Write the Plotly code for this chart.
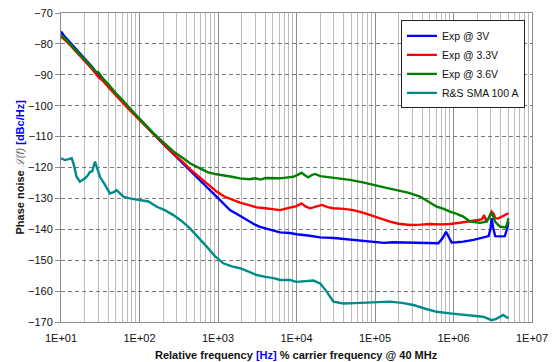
import plotly.graph_objects as go

# ---------------- data ----------------
f_blue = [10, 11, 13, 16, 20, 25, 30, 35, 40, 50, 60, 70, 85, 100, 120, 150, 200, 270, 360, 450, 590, 750,
          960, 1200, 1420, 1900, 2320, 3000, 3430, 4170, 5000, 6170, 8260, 10000, 14000, 20000, 30000, 43600,
          60000, 95000, 130000, 170000, 253000, 400000, 641000, 720000, 804000, 870000, 949000, 1100000,
          1330000, 1800000, 2180000, 2800000, 2950000, 3060000, 3200000, 3400000, 4000000, 4500000, 4800000,
          5000000]
v_blue = [-76.0, -77.5, -79.5, -82.0, -84.8, -87.5, -90.3, -91.7, -93.5, -96.3, -98.4, -100.3, -102.5, -104.4,
          -106.6, -109.3, -112.4, -115.6, -118.8, -121.4, -124.2, -126.8, -129.4, -132.0, -133.8, -135.6,
          -137.0, -138.6, -139.2, -139.8, -140.4, -141.0, -141.2, -141.6, -142.0, -142.6, -142.8, -143.2,
          -143.6, -144.0, -144.4, -144.2, -144.3, -144.6, -144.5, -143.0, -140.8, -142.5, -144.3, -144.2,
          -144.0, -143.4, -142.9, -142.2, -140.0, -136.4, -139.5, -142.2, -142.3, -142.2, -140.0, -137.5]

f_red = [10, 11, 13, 16, 20, 25, 30, 35, 40, 50, 60, 70, 85, 100, 120, 150, 200, 270, 361, 450, 590, 750, 961,
         1200, 1500, 1906, 2500, 3110, 4000, 5000, 6170, 8260, 10000, 11600, 13000, 14900, 17000, 21000,
         25000, 29500, 40000, 53000, 70000, 86300, 120000, 155000, 200000, 279000, 380000, 501000, 700000,
         902000, 1200000, 1470000, 1900000, 2290000, 2460000, 2600000, 2800000, 3060000, 3250000, 3400000,
         3700000, 4100000, 4500000, 5000000]
v_red = [-77.7, -78.5, -80.3, -82.8, -85.5, -88.2, -90.8, -92.2, -93.9, -96.8, -98.8, -100.6, -102.8, -104.6,
         -106.7, -109.3, -112.3, -115.5, -118.3, -120.8, -123.3, -125.8, -127.8, -129.4, -130.4, -131.4,
         -132.2, -132.9, -133.2, -133.5, -133.8, -133.0, -132.5, -131.6, -132.6, -133.2, -132.7, -132.1,
         -132.8, -133.2, -133.4, -133.8, -134.6, -135.4, -136.6, -137.5, -138.2, -138.6, -138.5, -138.3,
         -138.4, -138.3, -137.9, -137.5, -137.2, -136.8, -135.4, -137.2, -136.5, -134.3, -135.0, -136.4,
         -136.5, -135.9, -135.6, -134.8]

f_green = [10, 11, 13, 16, 20, 25, 28, 30, 35, 40, 50, 60, 70, 85, 100, 120, 150, 200, 270, 361, 450, 590, 750,
           961, 1200, 1500, 1906, 2500, 3000, 3500, 4000, 5030, 6170, 8260, 9100, 10500, 11600, 12800, 14100,
           15500, 17200, 20000, 26700, 35000, 48000, 70000, 95000, 140000, 189000, 270000, 374000, 480000,
           611000, 750000, 902000, 1100000, 1330000, 1620000, 2180000, 2650000, 2850000, 3060000, 3250000,
           3380000, 3900000, 4530000, 4800000, 5000000]
v_green = [-77.0, -78.0, -80.0, -82.4, -85.0, -87.6, -89.0, -89.2, -91.5, -93.0, -96.0, -98.0, -100.0, -102.3,
           -104.2, -106.3, -108.9, -111.8, -114.8, -117.0, -118.8, -120.3, -121.6, -122.2, -122.5, -123.0,
           -123.5, -123.8, -123.5, -123.9, -123.4, -123.5, -123.5, -123.1, -123.0, -122.3, -121.7, -122.5,
           -123.2, -122.5, -122.1, -122.8, -123.2, -123.5, -124.0, -124.8, -125.7, -126.6, -127.3, -128.2,
           -129.4, -131.0, -132.7, -133.4, -134.3, -135.0, -135.9, -137.5, -137.9, -137.5, -136.0, -134.6,
           -136.2, -137.5, -139.1, -139.4, -138.5, -136.4]

f_teal = [10, 11.2, 12.5, 13.7, 14.5, 15.8, 17.4, 18.5, 20.2, 22, 23.4, 25, 26, 27.1, 28.5, 31.4, 36, 42, 47,
          51, 56, 62, 75, 101, 130, 166, 210, 270, 340, 440, 560, 718, 900, 1166, 1500, 1906, 2500, 3110,
          4000, 5100, 6170, 8260, 10000, 13000, 16400, 20000, 24000, 29500, 39400, 55000, 71000, 100000,
          155000, 220000, 309000, 450000, 611000, 900000, 1330000, 1800000, 2370000, 2800000, 3060000,
          3500000, 4000000, 4300000, 4700000, 5000000]
v_teal = [-117.0, -117.6, -117.3, -117.0, -119.0, -123.0, -124.6, -124.2, -123.5, -122.5, -121.4, -121.3,
          -120.0, -118.1, -119.8, -123.0, -125.5, -128.4, -128.0, -127.3, -128.3, -129.4, -130.0, -130.5,
          -131.0, -132.7, -133.8, -135.4, -137.2, -139.7, -142.5, -145.6, -148.5, -151.0, -152.0, -152.6,
          -153.8, -154.8, -155.4, -155.8, -156.4, -156.4, -157.0, -156.8, -156.6, -157.5, -160.0, -163.4,
          -164.0, -163.9, -163.8, -163.6, -163.4, -163.8, -164.5, -165.8, -166.7, -167.2, -167.7, -168.0,
          -168.3, -169.0, -169.4, -169.0, -168.0, -167.7, -168.4, -168.8]

series_names = ["Exp @ 3V", "Exp @ 3.3V", "Exp @ 3.6V", "R&S SMA 100 A"]
series_colors = ["#0000FF", "#FF0000", "#008000", "#008B8B"]

x_tickvals = [1e1, 1e2, 1e3, 1e4, 1e5, 1e6, 1e7]
x_ticktext = ["1E+01", "1E+02", "1E+03", "1E+04", "1E+05", "1E+06", "1E+07"]
y_tickvals = [-70, -80, -90, -100, -110, -120, -130, -140, -150, -160, -170]

x_title = "<b>Relative frequency <span style='color:#0000FF'>[Hz]</span> % carrier frequency @ 40 MHz</b>"
y_title = ("<b>Phase noise</b> <i><span style='color:#666'>ℒ(f)</span></i> "
           "<b><span style='color:#0000FF'>[dBc/Hz]</span></b>")

# ---------------- figure ----------------
FONT = "Liberation Sans, Arial, sans-serif"
fig = go.Figure()
for fx, vy, name, col in zip([f_blue, f_red, f_green, f_teal], [v_blue, v_red, v_green, v_teal],
                             series_names, series_colors):
    fig.add_trace(go.Scatter(x=fx, y=vy, mode="lines", name=name,
                             line=dict(color=col, width=2.4)))

fig.update_layout(
    width=553, height=362,
    margin=dict(l=61, r=21, t=13, b=40, autoexpand=False),
    paper_bgcolor="white", plot_bgcolor="white",
    font=dict(family=FONT, size=11, color="#111"),
    showlegend=True,
    legend=dict(x=0.985, y=0.976, xanchor="right", yanchor="top",
                bgcolor="white", bordercolor="#222", borderwidth=1,
                font=dict(family=FONT, size=10.5, color="#111"),
                tracegroupgap=0, itemwidth=30),
    annotations=[
        dict(text=x_title, xref="paper", yref="paper", x=0.5, y=0, xanchor="center",
             yanchor="middle", yshift=-33, showarrow=False, font=dict(size=11, color="#111")),
        dict(text=y_title, xref="paper", yref="paper", x=0, y=0.5, xanchor="center",
             yanchor="middle", xshift=-42, textangle=-90, showarrow=False,
             font=dict(size=11, color="#111")),
    ],
)

fig.update_xaxes(
    type="log", range=[1, 7], automargin=False,
    tickmode="array", tickvals=x_tickvals, ticktext=x_ticktext,
    showgrid=True, gridcolor="#8c8c8c", gridwidth=1,
    minor=dict(dtick="D1", showgrid=True, gridcolor="#bdbdbd", gridwidth=1, ticks=""),
    showline=True, linecolor="#8c8c8c", linewidth=1, mirror=True,
    ticks="outside", ticklen=6, tickcolor="rgba(0,0,0,0)",
    tickfont=dict(size=11, color="#111"),
    zeroline=False,
)
fig.update_yaxes(
    range=[-170, -70], tickmode="array", tickvals=y_tickvals, automargin=False,
    showgrid=True, gridcolor="#7a7a7a", gridwidth=1, griddash="4px,3px",
    showline=True, linecolor="#8c8c8c", linewidth=1, mirror=True,
    ticks="outside", ticklen=5, tickcolor="#8c8c8c",
    tickfont=dict(size=11, color="#111"),
    zeroline=False,
)

fig.write_html("out.html", config={"displayModeBar": False},
               post_script="document.body.style.margin='0';document.body.style.overflow='hidden';")
